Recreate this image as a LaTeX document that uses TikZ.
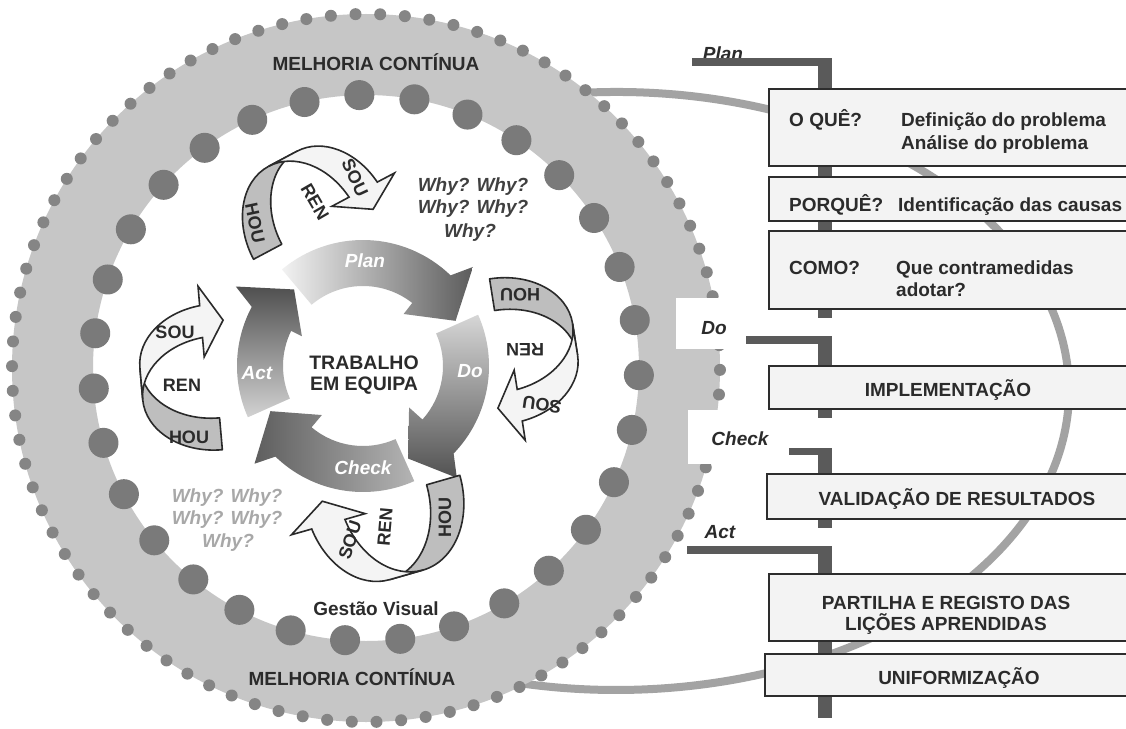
\documentclass[tikz,border=0pt]{standalone}
\usepackage{fontspec}
\setmainfont{Liberation Sans}
\definecolor{ringgray}{HTML}{C6C6C6}
\definecolor{dotbig}{HTML}{7A7A7A}
\definecolor{dotsmall}{HTML}{858585}
\definecolor{arcgray}{HTML}{A3A3A3}
\definecolor{spinegray}{HTML}{5A5A5A}
\definecolor{boxfill}{HTML}{F3F3F3}
\definecolor{boxline}{HTML}{2D2D2D}
\definecolor{ink}{HTML}{2B2B2B}
\definecolor{whylight}{HTML}{A8A8A8}
\definecolor{backband}{HTML}{BEBEBE}
\definecolor{frontband}{HTML}{F4F4F4}
\definecolor{outline}{HTML}{2A2A2A}
\definecolor{pla}{HTML}{F2F2F2}\definecolor{pda}{HTML}{5C5C5C}
\definecolor{plb}{HTML}{D6D6D6}\definecolor{pdb}{HTML}{525252}
\definecolor{plc}{HTML}{B4B4B4}\definecolor{pdc}{HTML}{5E5E5E}
\definecolor{pld}{HTML}{D2D2D2}\definecolor{pdd}{HTML}{505050}
\tikzset{
  base/.style={inner sep=0pt, text=ink},
  bf/.style={base, font=\fontsize{19bp}{22bp}\selectfont\bfseries},
  bfi/.style={base, font=\fontsize{19bp}{22bp}\selectfont\bfseries\itshape},
  tagtxt/.style={base, font=\fontsize{18bp}{20bp}\selectfont\bfseries},
  panel/.style={draw=boxline, fill=boxfill, line width=2bp, anchor=north west,
    inner sep=0pt, minimum width=380bp},
  bandback/.style={fill=backband, draw=outline, line width=1.6bp, line join=round},
  bandfront/.style={fill=frontband, draw=outline, line width=1.6bp, line join=miter},
  spine/.style={fill=spinegray},
  pics/uturn/.style={code={
    \path[bandback] (-75,-16) arc[start angle=180,end angle=90,x radius=75,y radius=57]
      -- (0,73) arc[start angle=90,end angle=180,x radius=75,y radius=57] -- cycle;
    \path[bandfront] (-75,-16) arc[start angle=180,end angle=262.3,x radius=75,y radius=57]
      -- (-10,-92) -- (12,-56) -- (-10,-21) -- (-10,-40.5)
      arc[start angle=262.3,end angle=180,x radius=75,y radius=57] -- cycle;
  }},
}
\begin{document}
\begin{tikzpicture}[x=1bp,y=-1bp]
\useasboundingbox (0,0) rectangle (1126,729);
\clip (0,0) rectangle (1126,729);
\fill[white] (0,0) rectangle (1126,729);

% long grey connector arc behind the ring and the panels
\draw[arcgray, line width=8bp] (616,391) ++(-97:453 and 299)
  arc[start angle=-97,end angle=107.5,x radius=453,y radius=299];

% continuous improvement ring with its dots
\begin{scope}[shift={(366,368)}]
  \fill[ringgray, even odd rule] (0,0) circle[radius=354] (0,0) circle[radius=273];
  \foreach \k in {0,...,89} \fill[dotsmall] ({0.3+4*\k}:354) circle[radius=6];
  \foreach \k in {0,...,30} \fill[dotbig] ({1.5+11.613*\k}:273) circle[radius=15];
\end{scope}
\fill[white] (676,298) rectangle (766,349);
\fill[white] (688,410) rectangle (766,464);

\node[bf, anchor=base] (mctop) at (376,70.5) {MELHORIA CONTÍNUA};
\node[bf, anchor=base] (mcbot) at (352,685) {MELHORIA CONTÍNUA};
\node[bf, anchor=base] (gv) at (376,615) {Gestão Visual};

% PDCA cycle
\begin{scope}[shift={(363,366)}]
  \shade[left color=pla, right color=pda] (230:126) arc[start angle=230,end angle=314,radius=126]
    -- (318:148) -- (334:103) -- (308:66) -- (308:80) arc[start angle=308,end angle=230,radius=80] -- cycle;
  \shade[top color=plb, bottom color=pdb] (-24:126) arc[start angle=-24,end angle=44,radius=126]
    -- (50:146) -- (64:103) -- (42:62) -- (42:80) arc[start angle=42,end angle=-24,radius=80] -- cycle;
  \shade[right color=plc, left color=pdc] (66:126) arc[start angle=66,end angle=134,radius=126]
    -- (138:146) -- (154:103) -- (130:64) -- (130:80) arc[start angle=130,end angle=66,radius=80] -- cycle;
  \shade[bottom color=pld, top color=pdd] (156:126) arc[start angle=156,end angle=208,radius=126]
    -- (212:150) -- (228:103) -- (206:68) -- (206:80) arc[start angle=206,end angle=156,radius=80] -- cycle;
\end{scope}
\node[bfi, text=white, anchor=base] (cplan) at (365,267) {Plan};
\node[bfi, text=white, anchor=base] (cdo) at (470,377) {Do};
\node[bfi, text=white, anchor=base] (ccheck) at (363,474) {Check};
\node[bfi, text=white, anchor=base] (cact) at (257,379) {Act};
\node[bf, font=\fontsize{19.5bp}{22bp}\selectfont\bfseries, anchor=base] (team1) at (364,369) {TRABALHO};
\node[bf, font=\fontsize{19.5bp}{22bp}\selectfont\bfseries, anchor=base] (team2) at (364,390) {EM EQUIPA};

% the four SOU / REN / HOU u-turn arrows
\begin{scope}[shift={(216,377)}, rotate=5, transform shape] \pic (ul) {uturn}; \end{scope}
\begin{scope}[shift={(318,225)}, rotate=-62, transform shape] \pic (ut) {uturn}; \end{scope}
\begin{scope}[shift={(501,351)}, rotate=-171, transform shape] \pic (ur) {uturn}; \end{scope}
\begin{scope}[shift={(384,497)}, rotate=106, scale=1.08, transform shape] \pic (ub) {uturn}; \end{scope}

\node[tagtxt] (lsou) at (175,332) {SOU};
\node[tagtxt] (lren) at (182,385) {REN};
\node[tagtxt] (lhou) at (189,437) {HOU};
\node[tagtxt, rotate=-78] (thou) at (255,223) {HOU};
\node[tagtxt, rotate=-60] (tren) at (315,202) {REN};
\node[tagtxt, rotate=-65] (tsou) at (355,178) {SOU};
\node[tagtxt, rotate=180] (rhou) at (520,295) {HOU};
\node[tagtxt, rotate=180] (rren) at (525,350) {REN};
\node[tagtxt, rotate=172] (rsou) at (542,405) {SOU};
\node[tagtxt, rotate=90] (bhou) at (445,517) {HOU};
\node[tagtxt, rotate=85] (bren) at (385,527) {REN};
\node[tagtxt, rotate=72] (bsou) at (350,540) {SOU};

% why-why texts
\node[bfi, anchor=base, text=ink!90] (wa1) at (473,192) {Why? Why?};
\node[bfi, anchor=base, text=ink!90] (wa2) at (473,214) {Why? Why?};
\node[bfi, anchor=base, text=ink!90] (wa3) at (470,237) {Why?};
\node[bfi, anchor=base, text=whylight] (wb1) at (227,502) {Why? Why?};
\node[bfi, anchor=base, text=whylight] (wb2) at (227,524) {Why? Why?};
\node[bfi, anchor=base, text=whylight] (wb3) at (228,547) {Why?};

% phase labels and their brackets
\node[bfi, anchor=base] (tplan) at (723,61) {Plan};
\node[bfi, anchor=base] (tdo) at (714,334) {Do};
\node[bfi, anchor=base] (tcheck) at (740,445) {Check};
\node[bfi, anchor=base] (tact) at (720,538) {Act};
\fill[spine] (692,58) rectangle (832,66);
\fill[spine] (818,58) rectangle (832,318);
\fill[spine] (746,336) rectangle (832,344);
\fill[spine] (818,336) rectangle (832,418);
\fill[spine] (789,447.5) rectangle (832,454.5);
\fill[spine] (818,447.5) rectangle (832,528);
\fill[spine] (687,546) rectangle (832,554);
\fill[spine] (818,546) rectangle (832,718);

% step panels
\node[panel, minimum height=77bp] (b1) at (768,88) {};
\node[panel, minimum height=44bp] (b2) at (768,176) {};
\node[panel, minimum height=78bp] (b3) at (768,230) {};
\node[panel, minimum height=43bp] (b4) at (768,365) {};
\node[panel, minimum height=45bp] (b5) at (766,473) {};
\node[panel, minimum height=67bp] (b6) at (768,573) {};
\node[panel, minimum height=42bp] (b7) at (764,653) {};

\node[bf, anchor=base west] (q1) at (789,127) {O QUÊ?};
\node[bf, anchor=base west] (q1a) at (901,127) {Definição do problema};
\node[bf, anchor=base west] (q1b) at (901,150) {Análise do problema};
\node[bf, anchor=base west] (q2) at (789,212) {PORQUÊ?};
\node[bf, anchor=base west] (q2a) at (898,212) {Identificação das causas};
\node[bf, anchor=base west] (q3) at (789,274) {COMO?};
\node[bf, anchor=base west] (q3a) at (896,274) {Que contramedidas};
\node[bf, anchor=base west] (q3b) at (896,296) {adotar?};
\node[bf, anchor=base] (s4) at (948,396) {IMPLEMENTAÇÃO};
\node[bf, anchor=base] (s5) at (957,505) {VALIDAÇÃO DE RESULTADOS};
\node[bf, anchor=base] (s6a) at (946,609) {PARTILHA E REGISTO DAS};
\node[bf, anchor=base] (s6b) at (946,630) {LIÇÕES APRENDIDAS};
\node[bf, anchor=base] (s7) at (959,684) {UNIFORMIZAÇÃO};
\end{tikzpicture}
\end{document}
